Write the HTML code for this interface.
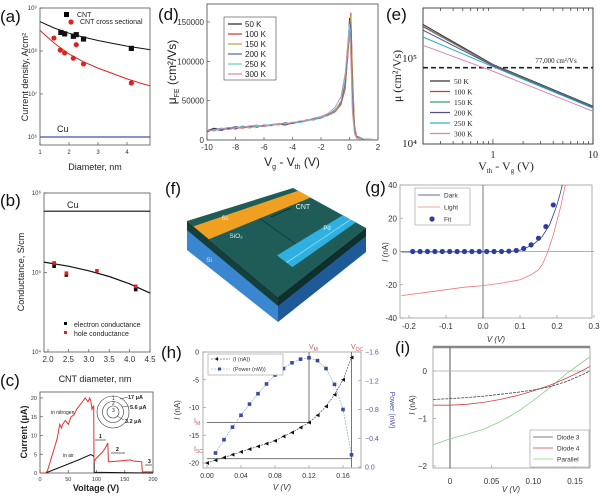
<!DOCTYPE html>
<html><head><meta charset="utf-8"><style>
html,body{margin:0;padding:0;background:#fff;}
svg{display:block;font-family:"Liberation Sans",sans-serif;}
.t{font-size:9px;fill:#222}
.s{font-size:7px;fill:#222}
.lab{font-size:17px;fill:#111}
.ser{font-family:"Liberation Serif",serif}
</style></head><body>
<svg id="fig" width="600" height="496" viewBox="0 0 600 496" xmlns="http://www.w3.org/2000/svg">
<text class="lab" x="0" y="22">(a)</text>
<text class="lab" x="0" y="206">(b)</text>
<text class="lab" x="0" y="386">(c)</text>
<text class="lab" x="158" y="20">(d)</text>
<text class="lab" x="386" y="20">(e)</text>
<text class="lab" x="165" y="194">(f)</text>
<text class="lab" x="365" y="193">(g)</text>
<text class="lab" x="161" y="358">(h)</text>
<text class="lab" x="395" y="353">(i)</text>

<rect x="40" y="8" width="110" height="137" fill="none" stroke="#555" stroke-width="0.8"/>
<rect x="44" y="193" width="106" height="159" fill="none" stroke="#555" stroke-width="0.8"/>
<rect x="40" y="392" width="113" height="81" fill="none" stroke="#555" stroke-width="0.8"/>
<rect x="207" y="4" width="171" height="136" fill="none" stroke="#444" stroke-width="0.8"/>
<rect x="423" y="8" width="170" height="136" fill="none" stroke="#444" stroke-width="1"/>
<rect x="400" y="185" width="192" height="133" fill="none" stroke="#999" stroke-width="0.8"/>
<rect x="203" y="352" width="158" height="116" fill="none" stroke="#999" stroke-width="0.8"/>
<rect x="433" y="347" width="157" height="121" fill="none" stroke="#999" stroke-width="0.8"/>
<line x1="433" y1="347" x2="590" y2="347" stroke="#888" stroke-width="2.5"/>

<text class="t" x="95" y="170" text-anchor="middle">Diameter, nm</text>
<text class="t" transform="translate(28,77) rotate(-90)" text-anchor="middle">Current density, A/cm²</text>
<text class="t" x="95" y="382" text-anchor="middle" font-size="10">CNT diameter, nm</text>
<text class="t" transform="translate(24,272) rotate(-90)" text-anchor="middle" font-size="10">Conductance, S/cm</text>
<text class="t" x="96" y="491" text-anchor="middle" font-weight="bold" font-size="8">Voltage (V)</text>
<text class="t" transform="translate(27,432) rotate(-90)" text-anchor="middle" font-weight="bold" font-size="8">Current (μA)</text>
<text x="292" y="166" text-anchor="middle" font-size="12" fill="#222">V<tspan font-size="7" dy="3">g</tspan><tspan dy="-3"> - V</tspan><tspan font-size="7" dy="3">th</tspan><tspan dy="-3"> (V)</tspan></text>
<text transform="translate(176,72) rotate(-90)" text-anchor="middle" font-size="12" fill="#222">μ<tspan font-size="7" dy="3">FE</tspan><tspan dy="-3"> (cm²/Vs)</tspan></text>
<text class="ser" x="506" y="170" text-anchor="middle" font-size="12" fill="#222">V<tspan font-size="7" dy="3">th</tspan><tspan dy="-3"> - V</tspan><tspan font-size="7" dy="3">g</tspan><tspan dy="-3"> (V)</tspan></text>
<text class="ser" transform="translate(401,76) rotate(-90)" text-anchor="middle" font-size="12" fill="#222">μ (cm²/Vs)</text>
<text x="496" y="342" text-anchor="middle" font-size="8" font-style="italic" fill="#333">V (V)</text>
<text transform="translate(388,252) rotate(-90)" text-anchor="middle" font-size="8" fill="#333"><tspan font-style="italic">I</tspan> (nA)</text>
<text x="282" y="490" text-anchor="middle" font-size="8" font-style="italic" fill="#333">V (V)</text>
<text transform="translate(180,410) rotate(-90)" text-anchor="middle" font-size="8" fill="#333"><tspan font-style="italic">I</tspan> (nA)</text>
<text transform="translate(390,410) rotate(90)" text-anchor="middle" font-size="7" fill="#55a">Power (nW)</text>
<text x="511" y="492" text-anchor="middle" font-size="8" font-style="italic" fill="#333">V (V)</text>
<text transform="translate(415,405) rotate(-90)" text-anchor="middle" font-size="8" fill="#333"><tspan font-style="italic">I</tspan> (nA)</text>

<g id="marks"></g>

<g>
<rect x="64" y="12" width="5" height="5" fill="#000"/>
<text class="s" x="77" y="17" font-size="6">CNT</text>
<circle cx="71" cy="22" r="2.6" fill="#d22"/>
<text class="s" x="80" y="24" font-size="6">CNT cross sectional</text>
</g>
<text class="t" x="57" y="132" font-size="10">Cu</text>
<text class="t" x="67" y="208" font-size="10">Cu</text>
<g>
<rect x="64" y="322" width="3" height="3" fill="#000"/>
<text class="s" x="74" y="327">electron conductance</text>
<rect x="64" y="331" width="3" height="3" fill="#d22"/>
<text class="s" x="74" y="336">hole conductance</text>
</g>
<g>
<text x="51" y="414" font-size="5" fill="#222">in nitrogen</text>
<text x="63" y="457" font-size="5" fill="#222">in air</text>
<circle cx="113" cy="412" r="16" fill="none" stroke="#333" stroke-width="0.6"/>
<circle cx="113" cy="412" r="10.5" fill="none" stroke="#333" stroke-width="0.6"/>
<circle cx="113" cy="412" r="6" fill="none" stroke="#333" stroke-width="0.6"/>
<text x="112" y="400" font-size="5" fill="#222">1</text>
<text x="112" y="405" font-size="5" fill="#222">2</text>
<text x="112" y="412" font-size="5" fill="#222">3</text>
<line x1="120" y1="399" x2="128" y2="397" stroke="#333" stroke-width="0.5"/>
<line x1="122" y1="407" x2="129" y2="406" stroke="#333" stroke-width="0.5"/>
<line x1="117" y1="416" x2="124" y2="420" stroke="#333" stroke-width="0.5"/>
<text x="128" y="399" font-size="5.5" fill="#222" font-weight="bold">17 μA</text>
<text x="130" y="409" font-size="5.5" fill="#222" font-weight="bold">5.6 μA</text>
<text x="125" y="423" font-size="5.5" fill="#222" font-weight="bold">3.2 μA</text>
<line x1="95" y1="440" x2="106" y2="440" stroke="#333" stroke-width="0.7"/><text x="99" y="438" font-size="5" font-weight="bold">1</text>
<line x1="111" y1="453" x2="125" y2="453" stroke="#333" stroke-width="0.7"/><text x="116" y="451" font-size="5" font-weight="bold">2</text>
<line x1="145" y1="465" x2="152" y2="465" stroke="#333" stroke-width="0.7"/><text x="148" y="463" font-size="5" font-weight="bold">3</text>
</g>
<g id="dleg">
<rect x="224" y="17" width="52" height="63" fill="#fff" stroke="#444" stroke-width="0.6"/>
</g>
<g id="eleg"></g>
<text class="ser" x="556" y="63" font-size="7" text-anchor="middle" fill="#222">77,000 cm²/Vs</text>
<g>
<rect x="415" y="188" width="55" height="37" fill="#fff" stroke="#999" stroke-width="0.6"/>
<line x1="418" y1="195" x2="440" y2="195" stroke="#2c3e8c" stroke-width="0.8"/><text x="444" y="197.5" font-size="6.5" fill="#333">Dark</text>
<line x1="418" y1="207" x2="440" y2="207" stroke="#e88" stroke-width="0.8"/><text x="444" y="209.5" font-size="6.5" fill="#333">Light</text>
<circle cx="432" cy="219" r="2.6" fill="#2d3e9c"/><text x="444" y="221.5" font-size="6.5" fill="#333">Fit</text>
</g>
<g>
<rect x="208" y="354" width="75" height="21" fill="#fff" stroke="#999" stroke-width="0.6"/>
<line x1="211" y1="359" x2="230" y2="359" stroke="#333" stroke-width="0.6" stroke-dasharray="2,1"/><path d="M218,357 L218,361 L215,359Z" fill="#111"/>
<text x="233" y="361" font-size="5.5" fill="#333">(I (nA))</text>
<line x1="211" y1="369" x2="230" y2="369" stroke="#7a9ad0" stroke-width="0.6" stroke-dasharray="2,1"/><rect x="218" y="367.5" width="3" height="3" fill="#3a4aa0"/>
<text x="233" y="371" font-size="5.5" fill="#333">(Power (nW))</text>
</g>
<text x="309" y="349" font-size="7" fill="#c55">V<tspan font-size="5" dy="2">M</tspan></text>
<text x="351" y="349" font-size="7" fill="#c55">V<tspan font-size="5" dy="2">OC</tspan></text>
<text x="194" y="423" font-size="7" fill="#c55">I<tspan font-size="5" dy="2">M</tspan></text>
<text x="194" y="451" font-size="7" fill="#c55">I<tspan font-size="5" dy="2">SC</tspan></text>
<g>
<rect x="530" y="430" width="59" height="37" fill="#fff" stroke="#999" stroke-width="0.6"/>
<line x1="533" y1="437" x2="553" y2="437" stroke="#555" stroke-width="0.8"/><text x="557" y="439.5" font-size="6.5" fill="#333">Diode 3</text>
<line x1="533" y1="448" x2="553" y2="448" stroke="#c44" stroke-width="0.8"/><text x="557" y="450.5" font-size="6.5" fill="#333">Diode 4</text>
<line x1="533" y1="459" x2="553" y2="459" stroke="#8c8" stroke-width="0.8"/><text x="557" y="461.5" font-size="6.5" fill="#333">Parallel</text>
</g>
</svg>
<script>
// (a)
const aCntD=[1.72,1.85,2.15,2.25,2.5,4.15];
const aCntJ=[2.7e8,2.5e8,2.2e8,2.4e8,1.9e8,1.15e8];
const aCrossD=[1.48,1.7,1.85,2.15,2.25,2.5,4.15];
const aCrossJ=[2.0e8,1.05e8,9e7,6.8e7,1.4e8,5e7,1.8e7];
const aFitD=[1,1.5,2,2.5,3,3.5,4,4.5,4.8];
const aFitCnt=[4.8e8,3.4e8,2.6e8,2.1e8,1.75e8,1.5e8,1.3e8,1.15e8,1.07e8];
const aFitCross=[3e8,1.5e8,8.5e7,5.6e7,4e7,3e7,2.25e7,1.75e7,1.55e7];
const aCu=1e6;
const aYTicks=[6,7,8,9];
const aXTicks=[1,2,3,4];
// (b)
const bElecD=[2.15,2.15,2.45,4.15,4.15];
const bElecG=[1.2e5,1.28e5,9.3e4,6.1e4,6.5e4];
const bHoleD=[2.15,2.45,3.2,4.15];
const bHoleG=[1.32e5,9.8e4,1.05e5,6.7e4];
const bFitD=[1.9,2.5,3,3.5,4,4.5];
const bFitG=[1.35e5,1.2e5,1.05e5,8.9e4,7.2e4,5.5e4];
const bCu=5.9e5;
const bXTicks=[2.0,2.5,3.0,3.5,4.0,4.5];
const bYTicks=[4,5,6];
// (c)
const cRedV=[0,10,13,15,20,30,35,38,40,45,50,55,60,65,70,75,80,85,88,90,92,95,95.5,100,110,115,120,121,125,140,160,165,180,181,200];
const cRedI=[0,0,0.5,1.5,4,9,13,12,13,14,13,15,15.5,17,18,19,20,19,20,19.2,17,18,3,4,5.5,6.5,8,3,3,3.2,3.5,3.2,3,0.3,0.3];
const cBlkV=[0,10,30,50,70,90,94,95.5,96,200];
const cBlkI=[0,0,1.2,2.4,3.6,4.9,4.6,4.3,0.2,0];
const cXTicks=[0,50,100,150,200];
const cYTicks=[0,5,10,15,20];
// (d)
const dX=[-10,-9.5,-9,-8.5,-8,-7.5,-7,-6.5,-6,-5.5,-5,-4.5,-4,-3.5,-3,-2.5,-2,-1.5,-1,-0.6,-0.3,-0.1,0,0.1,0.2,0.35,0.5,1,2];
const dNames=['50 K','100 K','150 K','200 K','250 K','300 K'];
const d50=[12,15,13,16,14,17,16,18,17,19,20,19,22,23,25,26,28,32,38,46,70,120,155,150,60,15,4,1,0.5];
const d100=[11,13,15,14,16,15,17,17,19,18,21,20,21,24,24,27,29,31,36,45,65,110,140,162,90,20,5,1,0.5];
const d150=[13,12,14,15,16,17,15,18,18,20,19,21,22,22,26,25,30,33,37,47,68,112,145,158,85,18,4,1,0.5];
const d200=[10,14,12,15,17,16,18,16,19,19,20,22,21,23,25,27,28,32,39,48,72,125,152,140,55,12,3,1,0.5];
const d250=[14,11,15,13,15,18,16,17,18,20,21,20,23,22,24,26,29,31,38,50,80,130,148,110,40,10,3,1,0.5];
const d300=[12,13,14,16,15,16,18,19,17,19,20,21,22,24,25,28,30,34,42,55,85,125,140,100,35,8,2,1,0.5];
const dSeries=[d50,d100,d150,d200,d250,d300];
const dXTicks=[-10,-8,-6,-4,-2,0,2];
const dYTicks=[0,50000,100000,150000];
// (e)
const eX=[0.2,1,10];
const eNames=['50 K','100 K','150 K','200 K','250 K','300 K'];
const e50=[2.45e5,8.4e4,2.75e4];
const e100=[2.35e5,8.3e4,2.7e4];
const e150=[2.3e5,8.2e4,2.7e4];
const e200=[2.1e5,8.1e4,2.65e4];
const e250=[1.75e5,7.9e4,2.6e4];
const e300=[1.4e5,7.0e4,2.4e4];
const eSeries=[e50,e100,e150,e200,e250,e300];
const eThreshold=77000;
const eXTicks=[1,10];
// (g)
const gV=[-0.22,-0.1,0,0.05,0.08,0.1,0.12,0.14,0.16,0.18,0.2,0.21,0.22];
const gDark=[-0.3,-0.3,-0.2,0,0.3,0.8,2.5,5,9,16,28,36,46];
const gLightV=[-0.22,-0.15,-0.1,-0.05,0,0.05,0.1,0.13,0.15,0.16,0.17,0.175,0.19,0.21,0.23];
const gLight=[-26.5,-24.5,-23,-21.5,-20.5,-19,-17,-14,-11,-8,-3,0,10,27,48];
const gFitV=[-0.19,-0.17,-0.15,-0.13,-0.11,-0.09,-0.07,-0.05,-0.03,-0.01,0.01,0.03,0.05,0.07,0.09,0.11,0.13,0.15,0.17,0.19];
const gFitI=[0,0,0,0,0,0,0,0,0,0,0,0,0,0.2,0.6,1.8,4,8,15,28];
const gXTicks=[-0.2,-0.1,0,0.1,0.2,0.3];
const gYTicks=[-40,-20,0,20,40];
// (h)
const hV=[0,0.01,0.02,0.03,0.04,0.05,0.06,0.07,0.08,0.09,0.10,0.11,0.12,0.13,0.14,0.15,0.16,0.17];
const hI=[-20,-19.5,-19,-18.5,-18,-17.5,-17,-16.5,-16,-15.2,-14.5,-13.6,-12.7,-11.4,-9.8,-7.7,-5,-1];
const hPV=[0.01,0.02,0.03,0.04,0.05,0.06,0.07,0.08,0.09,0.10,0.11,0.12,0.13,0.14,0.15,0.16,0.17];
const hP=[0.195,0.38,0.555,0.72,0.875,1.02,1.155,1.28,1.37,1.45,1.5,1.52,1.48,1.37,1.15,0.8,0.17];
const hVM=0.12, hIM=-12.7, hVOC=0.17, hISC=-20;
const hXTicks=[0,0.04,0.08,0.12,0.16];
const hYTicks=[0,-5,-10,-15,-20];
const hY2Ticks=[0,0.4,0.8,1.2,1.6];
// (i)
const iV=[-0.02,0,0.02,0.04,0.06,0.08,0.10,0.12,0.14,0.16,0.168];
const iD3=[-0.6,-0.58,-0.56,-0.53,-0.49,-0.45,-0.4,-0.33,-0.22,-0.07,0];
const iD4=[-0.72,-0.72,-0.7,-0.66,-0.6,-0.52,-0.42,-0.3,-0.15,0.02,0.1];
const iPar=[-1.55,-1.43,-1.33,-1.23,-1.07,-0.87,-0.62,-0.35,-0.05,0.2,0.3];
const iXTicks=[0,0.05,0.10,0.15];
const iYTicks=[0,-1,-2];

const NS='http://www.w3.org/2000/svg';
const G=document.getElementById('marks');
function lin(d0,d1,r0,r1){return v=>r0+(v-d0)*(r1-r0)/(d1-d0);}
function lg(d0,d1,r0,r1){const f=lin(Math.log10(d0),Math.log10(d1),r0,r1);return v=>f(Math.log10(v));}
function el(tag,attrs){const e=document.createElementNS(NS,tag);for(const k in attrs)e.setAttribute(k,attrs[k]);G.appendChild(e);return e;}
function line(xs,ys,sx,sy,stroke,w,name,dash){
  const d=xs.map((x,i)=>(i?'L':'M')+sx(x).toFixed(1)+','+sy(ys[i]).toFixed(1)).join('');
  const p=el('path',{d:d,fill:'none',stroke:stroke,'stroke-width':w});
  if(dash)p.setAttribute('stroke-dasharray',dash);
  
  
  return p;
}
function dots(xs,ys,sx,sy,fill,r,name,shape){
  xs.forEach((x,i)=>{
    let e;
    if(shape==='sq')e=el('rect',{x:sx(x)-r,y:sy(ys[i])-r,width:2*r,height:2*r,fill:fill});
    else if(shape==='tri'){const cx=sx(x),cy=sy(ys[i]);e=el('path',{d:`M${cx+r},${cy-r}L${cx+r},${cy+r}L${cx-r},${cy}Z`,fill:fill});}
    else e=el('circle',{cx:sx(x),cy:sy(ys[i]),r:r,fill:fill});
    
    
  });
}
function txt(x,y,s,size,anchor,name,fill){
  const t=el('text',{x:x,y:y,'font-size':size,'text-anchor':anchor||'middle',fill:fill||'#333'});
  t.textContent=s;
  
  
  return t;
}
function tick(x1,y1,x2,y2,c){const t=el('line',{x1:x1,y1:y1,x2:x2,y2:y2,stroke:c||'#555','stroke-width':0.7});
  
  }
const sup={'4':'⁴','5':'⁵','6':'⁶','7':'⁷','8':'⁸','9':'⁹'};

// (a)
{const sx=lin(1,4,40,127), sy=lg(1e6,1e9,137,8);
 aYTicks.forEach(p=>{txt(37,sy(Math.pow(10,p))+2,'10'+sup[p],6,'end','a-y-tick');tick(40,sy(Math.pow(10,p)),43,sy(Math.pow(10,p)));});
 aXTicks.forEach(v=>{txt(sx(v),154,String(v),6,'middle','a-x-tick');tick(sx(v),145,sx(v),142);});
 line([1,4.8],[aCu,aCu],sx,sy,'#4455aa',1.2,'a-cu-line');
 line(aFitD,aFitCnt,sx,sy,'#111',1,'a-cnt-fit');
 line(aFitD,aFitCross,sx,sy,'#d22',1,'a-cross-fit');
 dots(aCntD,aCntJ,sx,sy,'#111',2.6,'a-cnt-point','sq');
 dots(aCrossD,aCrossJ,sx,sy,'#d22',2.6,'a-cross-point');}
// (b)
{const sx=lin(2,4.5,48,150), sy=lg(1e4,1e6,352,193);
 bYTicks.forEach(p=>{txt(41,sy(Math.pow(10,p))+2,'10'+sup[p],6,'end','b-y-tick');tick(44,sy(Math.pow(10,p)),47,sy(Math.pow(10,p)));});
 bXTicks.forEach(v=>{txt(sx(v),362,v.toFixed(1),8,'middle','b-x-tick');tick(sx(v),352,sx(v),349);});
 line([1.9,4.5],[bCu,bCu],sx,sy,'#111',1.2,'b-cu-line');
 line(bFitD,bFitG,sx,sy,'#111',1.2,'b-fit');
 dots(bElecD,bElecG,sx,sy,'#111',1.8,'b-electron-point','sq');
 dots(bHoleD,bHoleG,sx,sy,'#d22',1.8,'b-hole-point','sq');}
// (c)
{const sx=lin(0,200,40,153), sy=lin(0,20,473,398);
 cXTicks.forEach(v=>{txt(sx(v),481,String(v),5.5,'middle','c-x-tick');tick(sx(v),473,sx(v),470);});
 cYTicks.forEach(v=>{txt(37,sy(v)+2,String(v),5.5,'end','c-y-tick');tick(40,sy(v),43,sy(v));});
 line(cBlkV,cBlkI,sx,sy,'#111',1,'c-air-curve');
 line(cRedV,cRedI,sx,sy,'#d33',1,'c-nitrogen-curve');}
// (d)
{const sx=lin(-10,2,207,378), sy=lin(0,150000,140,22);
 const cols=['#222','#c33','#b8a040','#5560aa','#66c8c8','#c890b0'];
 dXTicks.forEach(v=>{txt(sx(v),150,String(v),8,'middle','d-x-tick');tick(sx(v),140,sx(v),137);});
 dYTicks.forEach(v=>{txt(204,sy(v)+3,String(v),8,'end','d-y-tick');tick(207,sy(v),210,sy(v));});
 dSeries.forEach((s,k)=>line(dX,s.map(v=>v*1000),sx,sy,cols[k],0.9,'d-series-'+k));
 const lg_=document.getElementById('dleg');
 dNames.forEach((n,k)=>{const y=24+k*10;
   const l=document.createElementNS(NS,'line');l.setAttribute('x1',228);l.setAttribute('x2',242);l.setAttribute('y1',y);l.setAttribute('y2',y);l.setAttribute('stroke',cols[k]);l.setAttribute('stroke-width',1.2);
   
   
   lg_.appendChild(l);
   const t=document.createElementNS(NS,'text');t.setAttribute('x',245);t.setAttribute('y',y+3);t.setAttribute('font-size',8);t.setAttribute('fill','#222');t.textContent=n;
   
   
   lg_.appendChild(t);});}
// (e)
{const sx=lg(0.2,10,423,593), sy=lg(1e4,3.8e5,144,8);
 const cols=['#333','#d33','#3a9a80','#5a4a8a','#2ab0c0','#d880b8'];
 txt(417,147,'10⁴',11,'end','e-y-tick','#222').setAttribute('class','ser');
 txt(417,62,'10⁵',11,'end','e-y-tick','#222').setAttribute('class','ser');
 eXTicks.forEach(v=>{const t=txt(sx(v),158,String(v),10,'middle','e-x-tick','#222');t.setAttribute('class','ser');tick(sx(v),144,sx(v),139,'#333');});
 [0.3,0.4,0.5,0.6,0.7,0.8,0.9,2,3,4,5,6,7,8,9].forEach(v=>{tick(sx(v),144,sx(v),141,'#333');tick(sx(v),8,sx(v),11,'#333');});
 line([0.2,10],[eThreshold,eThreshold],sx,sy,'#222',1.6,'e-threshold-line','5,3');
 eSeries.forEach((s,k)=>line(eX,s,sx,sy,cols[k],1,'e-series-'+k));
 const lg_=document.getElementById('eleg');
 eNames.forEach((n,k)=>{const y=81+k*10.5;
   const l=document.createElementNS(NS,'line');l.setAttribute('x1',430);l.setAttribute('x2',450);l.setAttribute('y1',y);l.setAttribute('y2',y);l.setAttribute('stroke',cols[k]);l.setAttribute('stroke-width',1.2);
   
   
   lg_.appendChild(l);
   const t=document.createElementNS(NS,'text');t.setAttribute('x',454);t.setAttribute('y',y+3);t.setAttribute('font-size',7.5);t.setAttribute('fill','#222');t.setAttribute('class','ser');t.textContent=n;
   
   
   lg_.appendChild(t);});}
// (f)
{const A=[187,221],B=[293,188],C=[366,228],D=[278,297];
 function P(u,v){const top=[A[0]+(B[0]-A[0])*u,A[1]+(B[1]-A[1])*u],bot=[D[0]+(C[0]-D[0])*u,D[1]+(C[1]-D[1])*u];return [top[0]+(bot[0]-top[0])*v,top[1]+(bot[1]-top[1])*v];}
 function poly(pts,fill,name){const p=el('polygon',{points:pts.map(q=>q.join(',')).join(' '),fill:fill});
   
   }
 poly([A,D,[278,322],[187,250]],'#3a86d0','f-si-left-face');
 poly([D,C,[366,252],[278,322]],'#1f5a98','f-si-right-face');
 poly([A,D,[278,306],[187,230]],'#153f3a','f-oxide-left-edge');
 poly([D,C,[366,236],[278,306]],'#0f2f2c','f-oxide-right-edge');
 poly([A,B,C,D],'#1f5c57','f-sio2-top');
 poly([P(0,0.07),P(1,0.07),P(1,0.24),P(0,0.24)],'#f0a020','f-sc-electrode');
 poly([P(0.3,0.68),P(1,0.68),P(1,0.86),P(0.3,0.86)],'#2fb0e0','f-pd-electrode');
 const s1=P(0.3,0.79),s2=P(1,0.79);
 const hl=el('line',{x1:s1[0],y1:s1[1],x2:s2[0],y2:s2[1],stroke:'#8ee0ff','stroke-width':0.8});
 
 
 const c1=P(0.5,0.24),c2=P(0.5,0.68);
 const cn=el('line',{x1:c1[0],y1:c1[1],x2:c2[0],y2:c2[1],stroke:'#0b2a28','stroke-width':0.6});
 
 
 const ar=el('line',{x1:291,y1:208,x2:271,y2:217,stroke:'#0b2a28','stroke-width':0.8});
 
 
 txt(303,209,'CNT',7,'middle','f-cnt-label','#e8f4f2');
 txt(225,220,'Sc',6,'middle','f-sc-label','#fff3d0');
 txt(236,238,'SiO₂',6.5,'middle','f-sio2-label','#d8ecea');
 txt(327,230,'Pd',6,'middle','f-pd-label','#e0f6ff');
 txt(209,262,'Si',6.5,'middle','f-si-label','#d6e8ff');}
// (g)
{const sx=lin(0,0.1,483,520), sy=lin(-40,40,318,185);
 gXTicks.forEach(v=>{txt(sx(v),329,v.toFixed(1),8,'middle','g-x-tick');tick(sx(v),318,sx(v),315,'#999');});
 gYTicks.forEach(v=>{txt(397,sy(v)+3,String(v),8,'end','g-y-tick');tick(400,sy(v),403,sy(v),'#999');});
 line([0,0],[-40,40],sx,sy,'#555',0.8,'g-zero-v');
 line([-0.225,0.3],[0,0],sx,sy,'#999',0.8,'g-zero-h');
 const clip=el('clipPath',{id:'gclip'});const cr=document.createElementNS(NS,'rect');cr.setAttribute('x',400);cr.setAttribute('y',185);cr.setAttribute('width',192);cr.setAttribute('height',133);clip.appendChild(cr);
 line(gV,gDark,sx,sy,'#2c3e8c',0.8,'g-dark-curve').setAttribute('clip-path','url(#gclip)');
 line(gLightV,gLight,sx,sy,'#e77',0.8,'g-light-curve').setAttribute('clip-path','url(#gclip)');
 dots(gFitV,gFitI,sx,sy,'#2d3e9c',2.6,'g-fit-point');}
// (h)
{const sx=lin(0,0.16,207,343), sy=lin(-20,0,463,352), sp=lin(0,1.6,467,352);
 hXTicks.forEach(v=>{txt(sx(v),478,v.toFixed(2),7,'middle','h-x-tick');tick(sx(v),468,sx(v),465,'#999');});
 hYTicks.forEach(v=>{txt(199,sy(v)+2.5,String(v),7,'end','h-y-tick');tick(203,sy(v),206,sy(v),'#999');});
 hY2Ticks.forEach(v=>{txt(365,sp(v)+2.5,v===0?'0.0':'−'+v.toFixed(1),7,'start','h-y2-tick','#55a');tick(361,sp(v),358,sp(v),'#999');});
 line([0,hVM],[hIM,hIM],sx,sy,'#777',1,'h-im-line');
 line([hVM,hVM],[hIM,0],sx,sy,'#777',1,'h-vm-line');
 line([0,hVOC],[hISC+0.8,hISC+0.8],sx,sy,'#777',1,'h-isc-line');
 line([hVOC,hVOC],[-20.8,0],sx,sy,'#777',1,'h-voc-line');
 line(hV,hI,sx,sy,'#333',0.6,'h-current-curve','2,1');
 line(hPV,hP,sx,sp,'#7a9ad0',0.6,'h-power-curve','2,1');
 dots(hV,hI,sx,sy,'#111',2,'h-current-point','tri');
 dots(hPV,hP,sx,sp,'#3a4aa0',1.8,'h-power-point','sq');}
// (i)
{const sx=lin(0,0.15,450,575), sy=lin(-2,0,466,371);
 iXTicks.forEach(v=>{txt(sx(v),484,v===0?'0':v.toFixed(2),8,'middle','i-x-tick');tick(sx(v),468,sx(v),465,'#999');});
 iYTicks.forEach(v=>{txt(427,sy(v)+3,v<0?'−'+Math.abs(v):String(v),8,'end','i-y-tick');tick(433,sy(v),436,sy(v),'#999');});
 line([0,0],[-2.05,0.5],sx,sy,'#555',1,'i-zero-v');
 line([-0.02,0.168],[0,0],sx,sy,'#aaa',0.8,'i-zero-h');
 line(iV,iPar,sx,sy,'#8c8',0.8,'i-parallel-curve');
 line(iV,iD4,sx,sy,'#c44',0.8,'i-diode4-curve');
 line(iV,iD3,sx,sy,'#444',0.8,'i-diode3-curve','3,1');}
</script>
</body></html>
